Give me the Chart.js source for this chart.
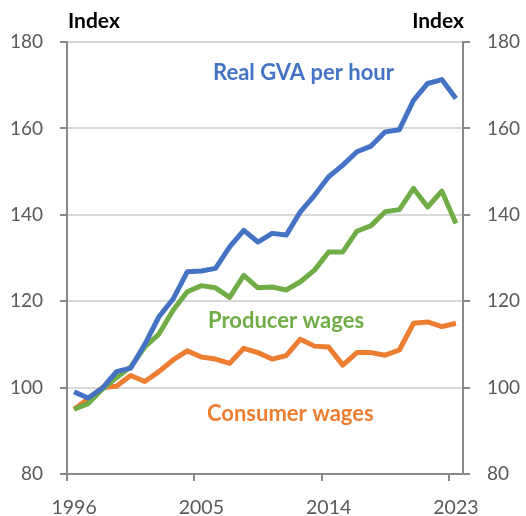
<!DOCTYPE html>
<html>
<head>
<meta charset="utf-8">
<script src="https://cdn.jsdelivr.net/npm/chart.js@4/dist/chart.umd.min.js"></script>
<style>
    html, body { margin: 0; padding: 0; background: #fff; }
    #wrap { width: 526px; height: 516px; }
</style>
</head>
<body>
<div id="wrap"><canvas id="chart" width="526" height="516"></canvas></div>
<script>
// annual data, index
const years = [1996, 1997, 1998, 1999, 2000, 2001, 2002, 2003, 2004, 2005, 2006, 2007, 2008, 2009,
    2010, 2011, 2012, 2013, 2014, 2015, 2016, 2017, 2018, 2019, 2020, 2021, 2022, 2023];
const gvaPerHour = [99.0, 97.6, 99.9, 103.7, 104.5, 110.0, 116.4, 120.5, 126.8, 127.0, 127.6, 132.6, 136.4, 133.7,
    135.7, 135.3, 140.7, 144.5, 148.8, 151.5, 154.6, 155.9, 159.2, 159.7, 166.5, 170.4, 171.3, 166.9];
const producerWages = [95.0, 96.3, 99.6, 102.3, 104.8, 109.4, 112.4, 117.9, 122.2, 123.6, 123.1, 120.9, 126.0, 123.1,
    123.3, 122.6, 124.5, 127.2, 131.4, 131.4, 136.2, 137.5, 140.7, 141.2, 146.1, 141.8, 145.5, 138.0];
const consumerWages = [95.0, 97.4, 100.0, 100.3, 102.8, 101.4, 103.7, 106.4, 108.5, 107.1, 106.6, 105.6, 109.1, 108.1,
    106.6, 107.4, 111.2, 109.6, 109.4, 105.2, 108.1, 108.1, 107.5, 108.7, 114.9, 115.2, 114.1, 114.9];
const yTicks = [80, 100, 120, 140, 160, 180];
const labelEvery = 9;

const axisColor = '#898989';
const tickText = '#595959';
const fontFamily = 'Lato, "Open Sans", sans-serif';

const seriesLabels = [
    { text: 'Real GVA per hour', color: '#4472C4', x: 213, y: 73 },
    { text: 'Producer wages', color: '#70AD47', x: 208, y: 321 },
    { text: 'Consumer wages', color: '#ED7D31', x: 207, y: 414 }
];

const textPlugin = {
    id: 'textPlugin',
    afterDraw(chart) {
        const c = chart.ctx;
        const area = chart.chartArea;
        c.save();
        c.textBaseline = 'middle';
        c.font = 'bold 21px ' + fontFamily;
        c.fillStyle = '#000';
        c.textAlign = 'left';
        c.fillText('Index', area.left + 1, 21);
        c.textAlign = 'right';
        c.fillText('Index', area.right + 1, 21);
        c.textAlign = 'left';
        c.font = 'bold 22px ' + fontFamily;
        seriesLabels.forEach(function (s) {
            c.fillStyle = s.color;
            c.fillText(s.text, s.x, s.y);
        });
        c.restore();
    }
};

function line(label, data, color) {
    return {
        label: label,
        data: data,
        borderColor: color,
        backgroundColor: color,
        borderWidth: 5,
        pointRadius: 0,
        tension: 0,
        borderJoinStyle: 'round',
        borderCapStyle: 'butt',
        yAxisID: 'y'
    };
}

const yCommon = {
    type: 'linear',
    min: 80,
    max: 180,
    afterBuildTicks: function (scale) {
        scale.ticks = yTicks.map(function (v) { return { value: v }; });
    },
    border: { color: axisColor, width: 2 },
    ticks: { padding: 17, color: tickText, font: { family: fontFamily, size: 19 } }
};

new Chart(document.getElementById('chart'), {
    type: 'line',
    data: {
        labels: years,
        datasets: [
            line('Real GVA per hour', gvaPerHour, '#4472C4'),
            line('Producer wages', producerWages, '#70AD47'),
            line('Consumer wages', consumerWages, '#ED7D31')
        ]
    },
    options: {
        responsive: false,
        animation: false,
        events: [],
        layout: { padding: { top: 42, left: 0, right: 0, bottom: 0 } },
        plugins: { legend: { display: false }, tooltip: { enabled: false } },
        scales: {
            x: {
                type: 'category',
                offset: true,
                grid: {
                    offset: true,
                    drawOnChartArea: false,
                    tickLength: 7,
                    lineWidth: 2,
                    tickColor: function (ctx) {
                        return ctx.index !== undefined && ctx.index % labelEvery === 0 ? axisColor : 'rgba(0,0,0,0)';
                    }
                },
                border: { color: axisColor, width: 2 },
                ticks: {
                    autoSkip: false,
                    maxRotation: 0,
                    padding: 15,
                    color: tickText,
                    font: { family: fontFamily, size: 19.5 },
                    callback: function (v, i) { return i % labelEvery === 0 ? String(years[i]) : ''; }
                },
                afterFit: function (scale) { scale.height = 42; }
            },
            y: Object.assign({}, yCommon, {
                position: 'left',
                grid: {
                    color: function (ctx) { return ctx.tick && ctx.tick.value === 80 ? 'rgba(0,0,0,0)' : '#d9d9d9'; },
                    lineWidth: 2,
                    tickLength: 7,
                    tickColor: axisColor
                },
                afterFit: function (scale) { scale.width = 67; }
            }),
            y2: Object.assign({}, yCommon, {
                position: 'right',
                grid: { drawOnChartArea: false, lineWidth: 2, tickLength: 7, tickColor: axisColor },
                afterFit: function (scale) { scale.width = 63; }
            })
        }
    },
    plugins: [textPlugin]
});
</script>
</body>
</html>
